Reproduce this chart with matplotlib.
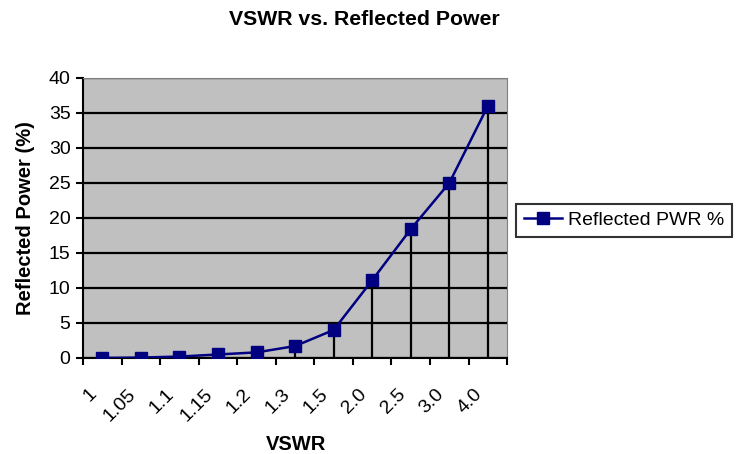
import matplotlib
matplotlib.use("Agg")
import matplotlib.pyplot as plt
import matplotlib.transforms as mtransforms
import numpy as np

# --- data ---
vswr_labels = ["1", "1.05", "1.1", "1.15", "1.2", "1.3", "1.5", "2.0", "2.5", "3.0", "4.0"]
reflected_pwr = [0, 0.06, 0.2, 0.5, 0.8, 1.7, 4.0, 11.1, 18.4, 25.0, 36.0]

plt.rcParams['font.family'] = ['Liberation Sans', 'DejaVu Sans']

fig = plt.figure(figsize=(7.39, 4.54), dpi=100)
ax = fig.add_axes([0.1123, 0.2115, 0.574, 0.617])

x = np.arange(len(vswr_labels))
ax.set_facecolor("#c0c0c0")

# drop lines
ax.vlines(x, 0, reflected_pwr, colors="black", linewidth=1.6, zorder=2)
ax.plot(x, reflected_pwr, color="#000080", marker="s", markersize=8,
        linewidth=1.8, label="Reflected PWR %", zorder=3)

ax.set_xlim(-0.5, len(vswr_labels) - 0.5)
ax.set_ylim(0, 40)
ax.set_yticks(range(0, 41, 5))
ax.yaxis.grid(True, color="black", linewidth=1.6)
ax.set_axisbelow(True)

# category ticks at boundaries, labels at centers
ax.set_xticks(np.arange(-0.5, len(vswr_labels)), minor=False)
ax.set_xticklabels([])
ax.set_xticks(x, minor=True)
ax.set_xticklabels(vswr_labels, minor=True, rotation=45, ha="right", va="top",
                   rotation_mode="anchor", fontsize=14)
ax.tick_params(axis="x", which="minor", length=0, pad=9)
ax.tick_params(axis="x", which="major", length=5, width=1.5, direction="out")
ax.tick_params(axis="y", length=5, width=1.5, labelsize=14, pad=4)

# nudge rotated labels down-left like Excel does
shift = mtransforms.ScaledTranslation(-0.14, -0.15, fig.dpi_scale_trans)
for lbl in ax.get_xticklabels(minor=True):
    lbl.set_transform(lbl.get_transform() + shift)

for side in ["top", "right"]:
    ax.spines[side].set_color("#808080")
for side in ["left", "bottom"]:
    ax.spines[side].set_linewidth(1.5)

ax.set_ylabel("Reflected Power (%)", fontsize=14.5, fontweight="bold", labelpad=10)
fig.text(0.40, 0.02, "VSWR", fontsize=14.5, fontweight="bold", ha="center", va="center")
fig.text(0.4926, 0.956, "VSWR vs. Reflected Power", fontsize=15.3, fontweight="bold",
         ha="center", va="center")

leg = fig.legend(loc="center left", bbox_to_anchor=(0.698, 0.515), fontsize=14,
                 frameon=True, fancybox=False, edgecolor="black", handlelength=2.0,
                 borderpad=0.4, handletextpad=0.3, borderaxespad=0)
leg.get_frame().set_linewidth(1.5)

fig.savefig("out.png", dpi=100)
